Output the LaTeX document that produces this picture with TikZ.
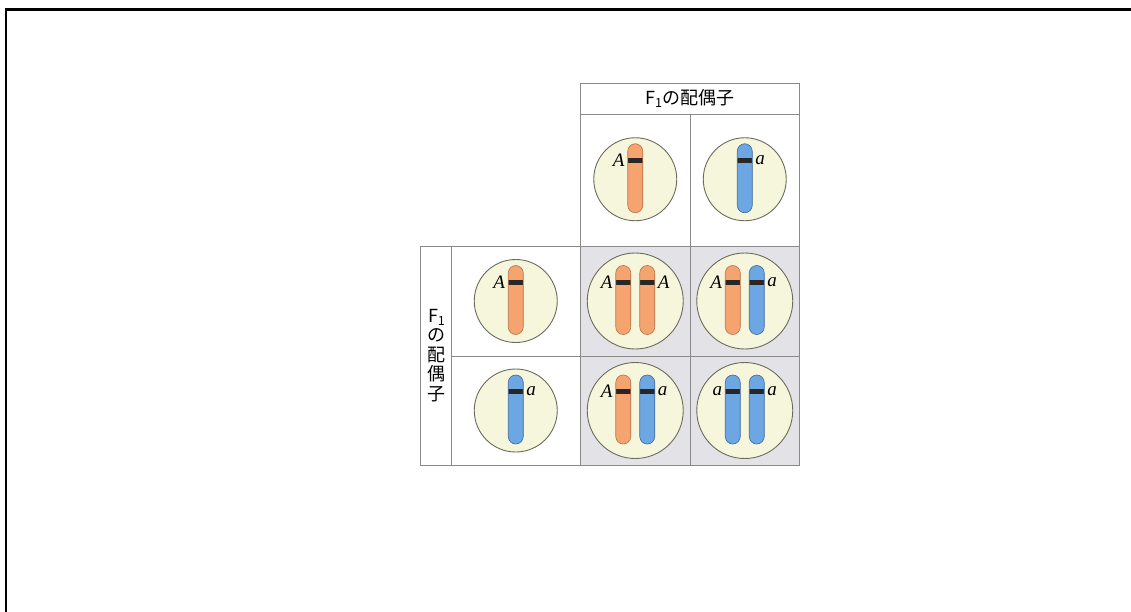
\documentclass[tikz,border=0pt]{standalone}
\usepackage{fontspec}
\setmainfont{Liberation Serif}
\newfontfamily\jpfont{Noto Sans CJK JP}
\usetikzlibrary{positioning}
\definecolor{gridline}{HTML}{8A8A8A}
\definecolor{crossfill}{HTML}{E3E3E7}
\definecolor{cellfill}{HTML}{F6F6DC}
\definecolor{cellrim}{HTML}{6B6B5E}
\definecolor{orangechr}{HTML}{F5A36F}
\definecolor{orangerim}{HTML}{B8744A}
\definecolor{bluechr}{HTML}{6CA7E3}
\definecolor{bluerim}{HTML}{41689B}
\definecolor{bandcol}{HTML}{2A2626}

\begin{document}
\begin{tikzpicture}[x=1pt, y=-1pt,
  box/.style={draw=gridline, line width=0.8pt, inner sep=0pt, outer sep=0pt, anchor=north west},
  cross/.style={box, fill=crossfill},
  cellwall/.style={circle, draw=cellrim, line width=0.9pt, fill=cellfill, inner sep=0pt, minimum size=#1},
  chr/.style={draw=#1rim, fill=#1chr, line width=0.6pt, rounded corners=7.5pt,
    minimum width=15pt, minimum height=69pt, inner sep=0pt, outer sep=0pt,
    path picture={\fill[bandcol, sharp corners] ([yshift=-14pt]path picture bounding box.north west)
      rectangle ([yshift=-19pt]path picture bounding box.north east);}},
  gene/.style={font=\fontsize{19}{19}\selectfont\itshape, inner sep=1pt},
  jp/.style={font=\jpfont\fontsize{18}{19.5}\selectfont, align=center}]
  \useasboundingbox (0,0) rectangle (1131,612);
  % frame
  \draw[line width=2.5pt] (6,612) -- (6,9.5) -- (1131,9.5);

  % table
  \node[box, minimum width=219pt, minimum height=31.5pt] (head) at (580.5,83) {};
  \node[jp] (headtxt) at (head) {F\textsubscript{1}の配偶子};
  \node[box, minimum width=109.5pt, minimum height=131.5pt] (colA) at (head.south west) {};
  \node[box, minimum width=109.5pt, minimum height=131.5pt] (cola) at (colA.north east) {};
  \node[box, minimum width=30.5pt, minimum height=219pt] (side) at (420.5,246) {};
  \node[jp] (sidetxt) at ([xshift=1pt]side) {F\textsubscript{1}\\の\\配\\偶\\子};
  \node[box, minimum width=129.5pt, minimum height=110pt] (rowA) at (side.north east) {};
  \node[box, minimum width=129.5pt, minimum height=109pt] (rowa) at (rowA.south west) {};
  \node[cross, minimum width=109.5pt, minimum height=110pt] (xAA) at (rowA.north east) {};
  \node[cross, minimum width=109.5pt, minimum height=110pt] (xAa) at (xAA.north east) {};
  \node[cross, minimum width=109.5pt, minimum height=109pt] (xaA) at (xAA.south west) {};
  \node[cross, minimum width=109.5pt, minimum height=109pt] (xaa) at (xaA.north east) {};

  % gametes
  \node[cellwall=83pt] (gA) at ([yshift=1pt]colA) {};
  \node[chr=orange] (gAc) at ([yshift=1pt]gA) {};
  \node[gene, anchor=east] (gAl) at ([xshift=-2pt,yshift=-16.5pt]gAc.north west) {A};
  \node[cellwall=83pt] (ga) at ([yshift=1pt]cola) {};
  \node[chr=blue] (gac) at ([yshift=1pt]ga) {};
  \node[gene, anchor=west] (gal) at ([xshift=2pt,yshift=-16.5pt]gac.north east) {a};
  \node[cellwall=83pt] (fA) at (rowA) {};
  \node[chr=orange] (fAc) at ([yshift=1pt]fA) {};
  \node[gene, anchor=east] (fAl) at ([xshift=-2pt,yshift=-16.5pt]fAc.north west) {A};
  \node[cellwall=83pt] (fa) at (rowa) {};
  \node[chr=blue] (fac) at ([yshift=1pt]fa) {};
  \node[gene, anchor=west] (fal) at ([xshift=2pt,yshift=-16.5pt]fac.north east) {a};

  % offspring
  \node[cellwall=96pt] (oAA) at (xAA) {};
  \node[chr=orange] (oAA1) at ([xshift=-12pt,yshift=1pt]oAA) {};
  \node[chr=orange] (oAA2) at ([xshift=12pt,yshift=1pt]oAA) {};
  \node[gene, anchor=east] (oAAl) at ([xshift=-2pt,yshift=-16.5pt]oAA1.north west) {A};
  \node[gene, anchor=west] (oAAr) at ([xshift=2pt,yshift=-16.5pt]oAA2.north east) {A};
  \node[cellwall=96pt] (oAa) at (xAa) {};
  \node[chr=orange] (oAa1) at ([xshift=-12pt,yshift=1pt]oAa) {};
  \node[chr=blue] (oAa2) at ([xshift=12pt,yshift=1pt]oAa) {};
  \node[gene, anchor=east] (oAal) at ([xshift=-2pt,yshift=-16.5pt]oAa1.north west) {A};
  \node[gene, anchor=west] (oAar) at ([xshift=2pt,yshift=-16.5pt]oAa2.north east) {a};
  \node[cellwall=96pt] (oaA) at (xaA) {};
  \node[chr=orange] (oaA1) at ([xshift=-12pt,yshift=1pt]oaA) {};
  \node[chr=blue] (oaA2) at ([xshift=12pt,yshift=1pt]oaA) {};
  \node[gene, anchor=east] (oaAl) at ([xshift=-2pt,yshift=-16.5pt]oaA1.north west) {A};
  \node[gene, anchor=west] (oaAr) at ([xshift=2pt,yshift=-16.5pt]oaA2.north east) {a};
  \node[cellwall=96pt] (oaa) at (xaa) {};
  \node[chr=blue] (oaa1) at ([xshift=-12pt,yshift=1pt]oaa) {};
  \node[chr=blue] (oaa2) at ([xshift=12pt,yshift=1pt]oaa) {};
  \node[gene, anchor=east] (oaal) at ([xshift=-2pt,yshift=-16.5pt]oaa1.north west) {a};
  \node[gene, anchor=west] (oaar) at ([xshift=2pt,yshift=-16.5pt]oaa2.north east) {a};
\end{tikzpicture}
\end{document}
